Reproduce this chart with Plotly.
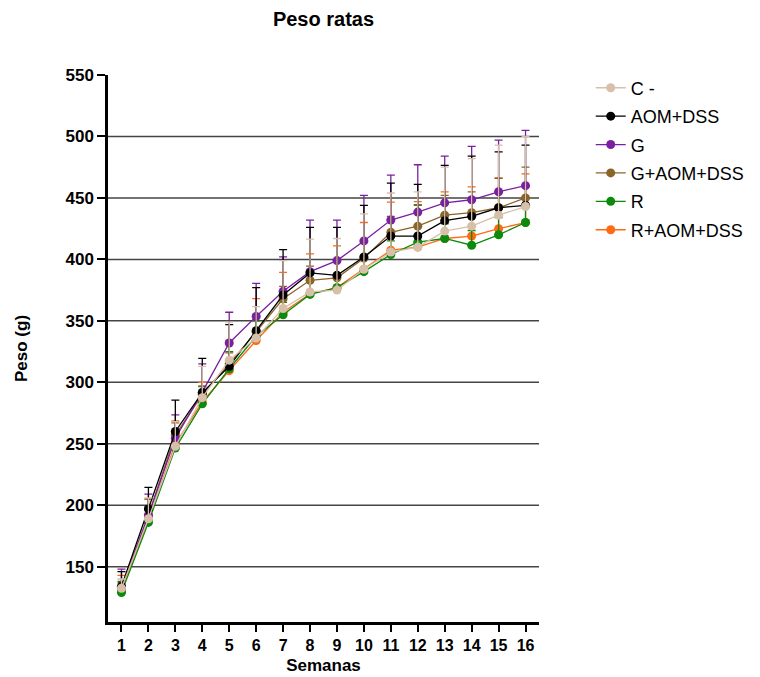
import plotly.graph_objects as go

weeks = list(range(1, 17))
series_names = ["C -", "AOM+DSS", "G", "G+AOM+DSS", "R", "R+AOM+DSS"]
colors = ["#D8BFAA", "#000000", "#7B1FA2", "#8B6428", "#0B8A0B", "#FF6A12"]

c_neg = [132.5, 189, 248, 287.5, 318, 336, 360, 373.5, 375, 392, 406, 410, 423, 427, 436, 443]
aom_dss = [134, 197, 260, 291.5, 313, 342, 371, 389, 387, 402, 419, 419, 431.5, 435, 442, 444]
g = [133, 191.5, 254.5, 292, 332, 353.5, 374, 390, 399, 415, 432, 438.5, 446, 448.5, 455, 460]
g_aom_dss = [133, 192, 257, 290, 315, 341, 368, 383, 385, 401, 422, 427, 436, 438, 442, 450]
r = [129, 186, 246.5, 282.5, 311, 337.5, 355, 371.5, 377, 390, 404, 414, 417, 411.5, 420, 430]
r_aom_dss = [131, 188, 250, 284, 309.5, 334, 357, 372, 377, 392, 407.5, 410, 417, 419, 425, 430]

err_c_neg = [7.5, 17, 20, 25.5, 31, 25.5, 39, 43, 42, 45, 48, 45, 52, 55, 57, 57]
err_aom_dss = [12, 17.5, 25.5, 28, 34, 35, 37, 37, 39, 42, 43, 42, 45, 49, 45.5, 49]
err_g = [15, 17.5, 19, 23, 25, 27, 28, 42, 33, 37, 36.5, 38.5, 38, 43.5, 42, 45]
err_g_aom_dss = [4, 13, 10, 7, 9, 14, 10, 11.5, 13, 13, 13, 17.5, 16, 17, 24, 25]
err_r = [9, 13, 12, 14, 14, 12.5, 10, 10, 10, 11, 11, 30, 12, 12, 14, 14]
err_r_aom_dss = [12, 17, 18.5, 16, 24.5, 34, 32.5, 32.5, 34, 38, 39, 37, 38, 40, 41, 39.5]

means = [c_neg, aom_dss, g, g_aom_dss, r, r_aom_dss]
errs = [err_c_neg, err_aom_dss, err_g, err_g_aom_dss, err_r, err_r_aom_dss]

grid_values = [150, 200, 250, 300, 350, 400, 450, 500]
y_ticks = [150, 200, 250, 300, 350, 400, 450, 500, 550]

FONT = "Liberation Sans, Arial"

fig = go.Figure()
# draw in reverse so the first series sits on top
for i in reversed(range(len(series_names))):
    fig.add_trace(go.Scatter(
        x=weeks, y=means[i], name=series_names[i], mode="lines+markers",
        line=dict(color=colors[i], width=1.3),
        marker=dict(color=colors[i], size=9),
        error_y=dict(type="data", array=errs[i], arrayminus=[0] * len(weeks),
                     symmetric=False, color=colors[i], thickness=1.3, width=4),
        legendrank=i + 1, legendgroup=series_names[i],
    ))

for gv in grid_values:
    fig.add_shape(type="line", xref="paper", x0=0, x1=1, yref="y", y0=gv, y1=gv,
                  line=dict(color="#444444", width=1.5), layer="below")

fig.update_layout(
    width=760, height=677,
    margin=dict(l=99, r=229, t=67, b=61),
    paper_bgcolor="white", plot_bgcolor="white",
    title=dict(text="Peso ratas", x=0.5, xref="paper", y=1 - 4 / 677, yref="container",
               yanchor="top", pad=dict(t=0, b=0),
               font=dict(family=FONT, size=20, color="black", weight="bold")),
    font=dict(family=FONT, color="black"),
    showlegend=True,
    legend=dict(x=1.12, y=1.01, xanchor="left", yanchor="top",
                font=dict(size=18, color="black", family=FONT), tracegroupgap=2,
                itemwidth=30, bgcolor="rgba(0,0,0,0)"),
    xaxis=dict(range=[0.5, 16.5], tickvals=weeks, showgrid=False, zeroline=False,
               showline=True, linecolor="black", linewidth=2.5,
               ticks="outside", ticklen=7, tickwidth=2, tickcolor="black",
               tickfont=dict(size=16, family=FONT, color="black", weight="bold"),
               title=dict(text="Semanas", font=dict(size=17, weight="bold"), standoff=7)),
    yaxis=dict(range=[105, 550], tickvals=y_ticks, showgrid=False, zeroline=False,
               showline=True, linecolor="black", linewidth=2.5,
               ticks="outside", ticklen=8, tickwidth=2, tickcolor="black",
               tickfont=dict(size=17, family=FONT, color="black", weight="bold"),
               title=dict(text="Peso (g)", font=dict(size=17, weight="bold"), standoff=34)),
)

fig.write_html("out.html")
